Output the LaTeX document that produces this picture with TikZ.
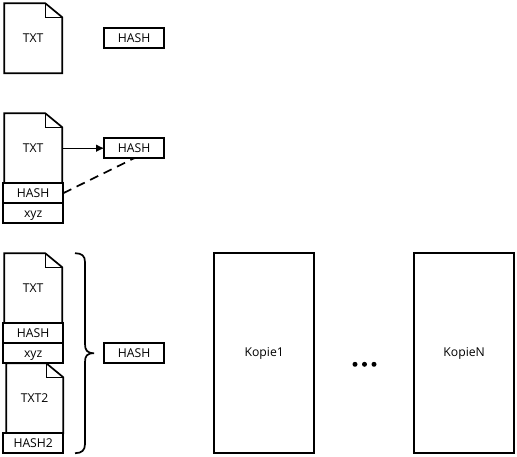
\documentclass[tikz,border=0pt]{standalone}
\usepackage{fontspec}
\setmainfont{Open Sans}
\usetikzlibrary{arrows.meta,positioning}
\tikzset{
    node style box/.style={draw,fill=white,line width=1.7pt,inner sep=0pt,outer sep=0pt,minimum width=60pt,minimum height=20pt,text depth=0pt,text height=8.4pt},
    node style copy/.style={draw,line width=1.7pt,inner sep=0pt,outer sep=0pt,minimum width=100pt,minimum height=200pt},
    node style doc/.style={inner sep=0pt,outer sep=0pt,minimum width=#1,minimum height=70pt},
    line style doc/.style={line width=1.7pt,fill=white,line join=miter},
    line style fold/.style={line width=1.2pt,line join=miter},
}
% document with a folded corner: name, width, centre, text
\newcommand{\mydoc}[4]{
\node (#1) [node style doc=#2] at #3 {};
\draw [line style doc] (#1.north west) -- ([xshift=-17pt]#1.north east) -- ([yshift=-14pt]#1.north east) -- (#1.south east) -- (#1.south west) -- cycle;
\draw [line style fold] ([xshift=-17pt]#1.north east) -- ([xshift=-17pt,yshift=-14pt]#1.north east) -- ([yshift=-14pt]#1.north east);
\node at (#1.center) [yshift=0.3pt] {#4};
}
\begin{document}
\begin{tikzpicture}[>={Latex[length=8pt,width=7.5pt]},x=1pt,y=-1pt,font=\fontsize{12.2}{14}\selectfont]
\useasboundingbox (0,0) rectangle (517,456);

% top row
\mydoc{txta}{58pt}{(33.2,38.2)}{TXT}
\node (hasha) [node style box] at (134.2,38.2) {HASH};

% middle row
\mydoc{txtb}{58pt}{(33.2,148.2)}{TXT}
\node (hashb) [node style box] at (134.2,148.2) {HASH};
\node (innerb) [node style box] at (33.2,193.2) {HASH};
\node (xyzb) [node style box,below=0pt of innerb] {xyz};
\draw [->,line width=1.1pt] (txtb.east) -- (hashb.west);
\draw [dashed,line width=1.7pt,dash pattern=on 9pt off 6pt] (innerb.east) -- (hashb.south);

% bottom row
\mydoc{txtc}{58pt}{(33.2,288.2)}{TXT}
\node (innerc) [node style box] at (33.2,333.2) {HASH};
\node (xyzc) [node style box,below=0pt of innerc] {xyz};
\mydoc{txtd}{57pt}{(34.7,398.2)}{TXT2}
\node (innerd) [node style box] at (33.2,443.2) {HASH2};
\node (hashc) [node style box] at (134.2,353.2) {HASH};
\coordinate (bracea) at (75,253.2);
\coordinate (braceb) at (75,453.2);
\coordinate (bracetip) at (94,353.2);
\draw [line width=1.7pt] (bracea) .. controls (82,253.2) and (85,256) .. (85,262) -- (85,344) .. controls (85,350) and (87,353.2) .. (bracetip) .. controls (87,353.2) and (85,356) .. (85,362) -- (85,444) .. controls (85,450) and (82,453.2) .. (braceb);

\node (kopiea) [node style copy] at (264.2,353.2) {Kopie1};
\node (kopieb) [node style copy] at (464.2,353.2) {KopieN};
\foreach \i/\x in {1/355,2/364.5,3/374}
  \fill (\x,364.3) circle (2.5pt);

\end{tikzpicture}
\end{document}
